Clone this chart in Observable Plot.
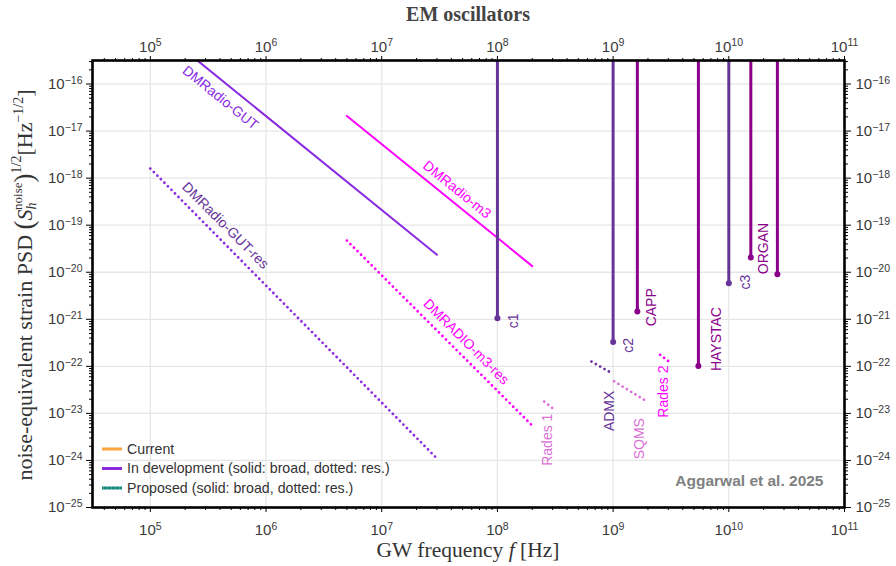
<!DOCTYPE html>
<html><head><meta charset="utf-8">
<script src="https://cdn.jsdelivr.net/npm/d3@7"></script>
<script src="https://cdn.jsdelivr.net/npm/@observablehq/plot@0.6"></script>
<style>
body{margin:0;background:#fff;}
#chart{width:896px;height:566px;}
</style>
</head><body><div id="chart"></div>
<script>
// ---------------- DATA ----------------
// major decades (tick labels)
const xDecades = [1e5, 1e6, 1e7, 1e8, 1e9, 1e10, 1e11];
const yDecades = [1e-25, 1e-24, 1e-23, 1e-22, 1e-21, 1e-20, 1e-19, 1e-18, 1e-17, 1e-16];

// sensitivity curves: start/end frequency (Hz) and strain
const curveNames = ["DMRadio-GUT", "DMRadio-m3", "DMRadio-GUT-res", "DMRADIO-m3-res", "ADMX", "SQMS", "Rades 1", "Rades 2"];
const curveF = [[2.5e5, 3e7], [5e6, 2e8], [1e5, 3e7], [5e6, 2e8], [6.5e8, 1e9], [1.02e9, 1.95e9], [2.54e8, 3.11e8], [2.55e9, 3.11e9]];
const curveH = [[3.3e-16, 2.35e-20], [2.1e-17, 1.35e-20], [1.6e-18, 1.1e-24], [4.7e-20, 5.5e-24], [1.26e-22, 6.9e-23], [4.8e-23, 1.8e-23], [1.78e-23, 1.2e-23], [1.76e-22, 1.2e-22]];
const curveKind = ["broad", "broad", "res", "res", "res", "res", "res", "res"];
// curve label anchors
const curveLabelF = [4.03e5, 4.47e7, 4.46e5, 5.37e7, 9.4e8, 1.68e9, 2.73e8, 2.72e9];
const curveLabelH = [5.1e-17, 5.66e-19, 9.8e-20, 3.33e-22, 1.13e-23, 2.9e-24, 2.76e-24, 2.9e-23];

// EM oscillators (resonant cavities): frequency and strain floor
const emNames = ["c1", "c2", "CAPP", "HAYSTAC", "c3", "ORGAN", "ORGAN"];
const emFreq = [1e8, 1e9, 1.62e9, 5.46e9, 1e10, 1.55e10, 2.63e10];
const emFloor = [1.05e-21, 3.3e-22, 1.47e-21, 1.02e-22, 5.8e-21, 2.05e-20, 9.1e-21];
const emLabelText = ["c1", "c2", "CAPP", "HAYSTAC", "c3", "ORGAN"];
const emLabelF = [1.38e8, 1.35e9, 2.16e9, 7.87e9, 1.4e10, 1.98e10];
const emLabelH = [9.3e-22, 2.8e-22, 1.8e-21, 3.8e-22, 6.2e-21, 3.2e-20];

const legendLabels = ["Current", "In development (solid: broad, dotted: res.)", "Proposed (solid: broad, dotted: res.)"];
const credit = "Aggarwal et al. 2025";
const titleText = "EM oscillators";

// ---------------- STYLES ----------------
const curveColor = {"DMRadio-GUT": "#8a2be2", "DMRadio-m3": "#ff00ff", "DMRadio-GUT-res": "#8a2be2", "DMRADIO-m3-res": "#ff00ff",
  "ADMX": "#663399", "SQMS": "#da70d6", "Rades 1": "#da70d6", "Rades 2": "#ff00ff"};
const curveLabelColor = {"DMRadio-GUT": "#8a2be2", "DMRadio-m3": "#ff00ff", "DMRadio-GUT-res": "#663399", "DMRADIO-m3-res": "#ff00ff",
  "ADMX": "#663399", "SQMS": "#da70d6", "Rades 1": "#da70d6", "Rades 2": "#ff00ff"};
const curveLabelRotate = {"DMRadio-GUT": 39, "DMRadio-m3": 39, "DMRadio-GUT-res": 45, "DMRADIO-m3-res": 45,
  "ADMX": -90, "SQMS": -90, "Rades 1": -90, "Rades 2": -90};
const emColor = {"c1": "#663399", "c2": "#663399", "c3": "#663399", "CAPP": "#8b008b", "HAYSTAC": "#8b008b", "ORGAN": "#8b008b"};
const legendColors = ["#f9a53f", "#8a2be2", "#14887f"];

// ---------------- BUILD ----------------
const yTop = 10 ** -15.5;
const xMinor = [], yMinor = [];
for (let e = 4; e <= 10; e++) for (let m = 2; m <= 9; m++) { const v = m * 10 ** e; if (v > 10 ** 4.5 && v < 1e11) xMinor.push(v); }
for (let e = -25; e <= -16; e++) for (let m = 2; m <= 9; m++) { const v = m * 10 ** e; if (v < yTop) yMinor.push(v); }

const curves = curveNames.map((n, i) => ({name: n, kind: curveKind[i], pts: curveF[i].map((f, j) => ({f, h: curveH[i][j]}))}));
const curveLabels = curveNames.map((n, i) => ({name: n, f: curveLabelF[i], h: curveLabelH[i]}));
const em = emNames.map((n, i) => ({name: n, f: emFreq[i], h: emFloor[i], top: yTop}));
const emLabels = emLabelText.map((n, i) => ({name: n, f: emLabelF[i], h: emLabelH[i]}));

const fmt = d => "10^" + String(Math.round(Math.log10(d))).replace("-", "\u2212");
const blank = () => "";
const tickFont = 15;

const marks = [
  Plot.gridX({ticks: xDecades.slice(0, -1), stroke: "#e6e6e6", strokeOpacity: 1, strokeWidth: 1.3}),
  Plot.gridY({ticks: yDecades.slice(1), stroke: "#e6e6e6", strokeOpacity: 1, strokeWidth: 1.3}),
];
for (const c of curves) {
  const solid = c.kind === "broad";
  marks.push(Plot.line(c.pts, {x: "f", y: "h", stroke: curveColor[c.name], clip: true,
    strokeWidth: solid ? 2 : 2.8,
    strokeDasharray: solid ? null : "0 5",
    strokeLinecap: "round"}));
}
for (const d of curveLabels) {
  marks.push(Plot.text([d], {x: "f", y: "h", text: "name", fill: curveLabelColor[d.name], rotate: curveLabelRotate[d.name], fontSize: 14}));
}
for (const d of em) {
  marks.push(Plot.ruleX([d], {x: "f", y1: "h", y2: "top", stroke: emColor[d.name], strokeWidth: 3, clip: true}));
  marks.push(Plot.dot([d], {x: "f", y: "h", r: 3, fill: emColor[d.name], stroke: "none"}));
}
for (const d of emLabels) {
  marks.push(Plot.text([d], {x: "f", y: "h", text: "name", fill: emColor[d.name], rotate: -90, fontSize: 14}));
}
marks.push(Plot.text([credit], {frameAnchor: "bottom-right", dx: -21, dy: -22, fill: "#808080", fontWeight: "bold", fontSize: 15.5, textAnchor: "end"}));

// axes
marks.push(
  Plot.axisX({anchor: "bottom", ticks: xMinor, tickSize: 3, tickFormat: blank, label: null, stroke: "black"}),
  Plot.axisX({anchor: "top", ticks: xMinor, tickSize: 3, tickFormat: blank, label: null, stroke: "black"}),
  Plot.axisX({anchor: "bottom", ticks: xDecades, tickSize: 5, tickPadding: 12, tickFormat: fmt, label: null, stroke: "black", fontSize: tickFont}),
  Plot.axisX({anchor: "top", ticks: xDecades, tickSize: 5, tickPadding: 4, tickFormat: fmt, label: null, stroke: "black", fontSize: tickFont}),
  Plot.axisY({anchor: "left", ticks: yMinor, tickSize: 3, tickFormat: blank, label: null, stroke: "black"}),
  Plot.axisY({anchor: "right", ticks: yMinor, tickSize: 3, tickFormat: blank, label: null, stroke: "black"}),
  Plot.axisY({anchor: "left", ticks: yDecades, tickSize: 6, tickPadding: 4, tickFormat: fmt, label: null, stroke: "black", fontSize: tickFont}),
  Plot.axisY({anchor: "right", ticks: yDecades, tickSize: 6, tickPadding: 5, tickFormat: fmt, label: null, stroke: "black", fontSize: tickFont}),
  Plot.frame({stroke: "black", strokeWidth: 2.6})
);

const svg = Plot.plot({
  width: 896, height: 566,
  marginLeft: 92, marginRight: 52, marginTop: 60, marginBottom: 59,
  style: {fontFamily: "'Liberation Sans', Arial, sans-serif", fontSize: "14px", color: "#3a3a3a", background: "white", overflow: "visible"},
  x: {type: "log", domain: [10 ** 4.5, 1e11]},
  y: {type: "log", domain: [1e-25, yTop]},
  marks
});

// superscript tick labels
d3.select(svg).selectAll("text").each(function () {
  const m = /^10\^(.+)$/.exec(this.textContent);
  if (!m) return;
  const s = d3.select(this);
  s.text(null);
  s.append("tspan").text("10");
  s.append("tspan").attr("dy", "-0.5em").attr("font-size", "0.7em").text(m[1]);
});

const S = d3.select(svg);
const serif = "'Liberation Serif', 'Times New Roman', serif";
// title
S.append("text").attr("x", 468).attr("y", 21).attr("text-anchor", "middle")
  .attr("font-family", serif).attr("font-weight", "bold").attr("font-size", 20).attr("fill", "#444").text(titleText);
// x label
const xl = S.append("text").attr("x", 468).attr("y", 557).attr("text-anchor", "middle")
  .attr("font-family", serif).attr("font-size", 21.5).attr("fill", "#333");
xl.append("tspan").text("GW frequency ");
xl.append("tspan").attr("font-style", "italic").text("f");
xl.append("tspan").text(" [Hz]");
// y label
const yl = S.append("text").attr("transform", "translate(32,285) rotate(-90)").attr("text-anchor", "middle")
  .attr("font-family", serif).attr("font-size", 22).attr("fill", "#333");
yl.append("tspan").text("noise-equivalent strain PSD ");
yl.append("tspan").attr("font-size", 27).attr("dy", "1").text("(");
yl.append("tspan").attr("font-style", "italic").attr("dy", "-1").text("S");
yl.append("tspan").attr("font-style", "italic").attr("font-size", 14).attr("dy", "4").text("h");
yl.append("tspan").attr("font-size", 13).attr("dx", "-7.5").attr("dy", "-14").text("noise");
yl.append("tspan").attr("font-size", 27).attr("dy", "11").text(")");
yl.append("tspan").attr("font-size", 14).attr("dy", "-12").text("1/2");
yl.append("tspan").attr("dy", "11").text("[Hz");
yl.append("tspan").attr("font-size", 14).attr("dy", "-9").text("\u22121/2");
yl.append("tspan").attr("dy", "9").text("]");

// legend
const lg = S.append("g").attr("font-family", "'Liberation Sans', Arial, sans-serif").attr("font-size", 14.2).attr("fill", "#333").attr("text-anchor", "start");
legendLabels.forEach((t, i) => {
  const y = 449 + i * 19.5;
  lg.append("line").attr("x1", 102).attr("x2", 122).attr("y1", y).attr("y2", y).attr("stroke", legendColors[i]).attr("stroke-width", 3);
  if (i === 2) lg.append("line").attr("x1", 103).attr("x2", 122).attr("y1", y).attr("y2", y).attr("stroke", "#9fd8d3").attr("stroke-width", 1).attr("stroke-dasharray", "1 3").attr("opacity", 0.6);
  lg.append("text").attr("x", 127).attr("y", y).attr("dy", "0.35em").attr("text-anchor", "start").text(t);
});

document.getElementById("chart").appendChild(svg);
</script>
</body></html>
